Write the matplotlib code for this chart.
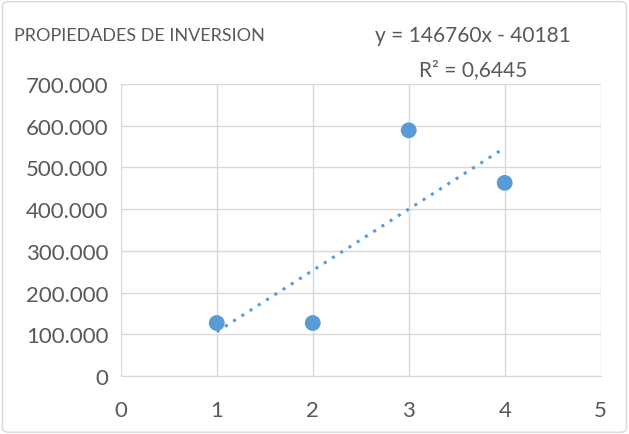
import numpy as np
import matplotlib.pyplot as plt
from matplotlib.ticker import FuncFormatter
from matplotlib.patches import FancyBboxPatch

# Datos
x_vals = [1, 2, 3, 4]
y_vals = [127000, 127000, 589000, 463000]
x_ticks = [0, 1, 2, 3, 4, 5]
y_ticks = [0, 100000, 200000, 300000, 400000, 500000, 600000, 700000]
titulo = 'PROPIEDADES DE INVERSION'
ecuacion = 'y = 146760x - 40181'
r2_texto = 'R² = 0,6445'

azul = '#5B9BD5'
gris_texto = '#595959'
gris_rejilla = '#D9D9D9'

plt.rcParams['font.family'] = ['Lato', 'DejaVu Sans']

fig = plt.figure(figsize=(6.29, 4.35), dpi=100)
ax = fig.add_axes([0.192, 0.1333, 0.763, 0.6713])

# Borde exterior del gráfico
borde = FancyBboxPatch((0.004, 0.004), 0.992, 0.99, boxstyle='round,pad=0,rounding_size=0.01',
                       transform=fig.transFigure, fill=False, edgecolor=gris_rejilla, linewidth=1)
fig.patches.append(borde)

ax.scatter(x_vals, y_vals, s=130, color=azul, zorder=3, edgecolors='none')

# Línea de tendencia lineal
pend, inter = np.polyfit(x_vals, y_vals, 1)
xt = np.array([min(x_vals), max(x_vals)])
ax.plot(xt, pend * xt + inter, color=azul, linestyle=(0, (1, 2.2)), linewidth=2.2, zorder=2)

ax.set_xlim(0, 5)
ax.set_ylim(0, 700000)
ax.set_xticks(x_ticks)
ax.set_yticks(y_ticks)
ax.yaxis.set_major_formatter(FuncFormatter(lambda v, p: f'{int(v):,}'.replace(',', '.')))
ax.grid(True, color=gris_rejilla, linewidth=1)
ax.set_axisbelow(True)
for lado in ['top', 'right', 'left']:
    ax.spines[lado].set_visible(False)
ax.spines['bottom'].set_color(gris_rejilla)
ax.tick_params(length=0, labelsize=16, labelcolor=gris_texto, pad=9)
ax.tick_params(axis='x', pad=17)

fig.text(0.022, 0.917, titulo, fontsize=13, color=gris_texto, va='center', ha='left')
fig.text(0.752, 0.917, ecuacion, fontsize=15, color=gris_texto, va='center', ha='center')
fig.text(0.752, 0.838, r2_texto, fontsize=15, color=gris_texto, va='center', ha='center')

fig.savefig('out.png', dpi=100)
